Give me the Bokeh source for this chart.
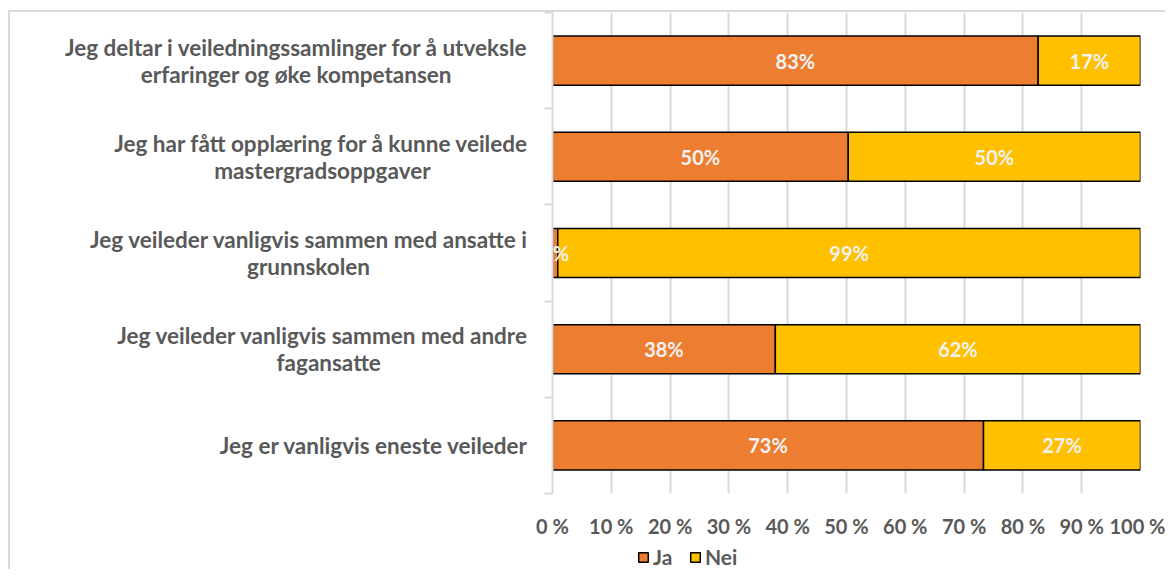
from bokeh.plotting import figure
from bokeh.layouts import column, row
from bokeh.models import (ColumnDataSource, Range1d, FixedTicker, LinearAxis,
                          Legend, LegendItem)
from bokeh.embed import file_html
from bokeh.resources import INLINE
from bokeh.core.properties import value

# ---- data (top to bottom) ----
label_line1 = [
    "Jeg deltar i veiledningssamlinger for å utveksle",
    "Jeg har fått opplæring for å kunne veilede",
    "Jeg veileder vanligvis sammen med ansatte i",
    "Jeg veileder vanligvis sammen med andre",
    "Jeg er vanligvis eneste veileder",
]
label_line2 = [
    "erfaringer og øke kompetansen",
    "mastergradsoppgaver",
    "grunnskolen",
    "fagansatte",
    "",
]
ja = [82.6, 50.3, 0.9, 37.9, 73.3]
nei = [17.4, 49.7, 99.1, 62.1, 26.7]
ja_labels = ["83%", "50%", "1%", "38%", "73%"]
nei_labels = ["17%", "50%", "99%", "62%", "27%"]
tick_values = [0, 10, 20, 30, 40, 50, 60, 70, 80, 90, 100]
tick_labels = ["0 %", "10 %", "20 %", "30 %", "40 %", "50 %", "60 %",
               "70 %", "80 %", "90 %", "100 %"]
series_names = ["Ja", "Nei"]

# layout-only: trailing no-break spaces to centre the 2nd line under the 1st
line2_pad = [14, 18, 29, 27, 0]

ORANGE = "#ED7D31"
YELLOW = "#FFC000"
GRID = "#d9d9d9"
TXT = "#595959"
FONT = "Lato"
W = 1155          # inside the chart frame
LW = 518          # width of the category-label strip
H = 528
B = 46            # space under the plot frame for tick labels

n = len(ja)
ys = [i + 0.5 for i in range(n)]
src = ColumnDataSource(dict(
    y=ys,
    ja=ja,
    total=[a + b for a, b in zip(ja, nei)],
    ja_mid=[a / 2 for a in ja],
    nei_mid=[a + b / 2 for a, b in zip(ja, nei)],
    ja_lab=ja_labels,
    nei_lab=nei_labels,
))
y_range = Range1d(n, 0)

# ---------- main bar plot ----------
p = figure(width=W - LW, height=H, output_backend="svg", toolbar_location=None,
           x_range=Range1d(0, 100), y_range=y_range,
           x_axis_location=None, y_axis_location=None,
           min_border_left=24, min_border_right=25,
           min_border_top=0, min_border_bottom=B)
p.outline_line_color = None
p.background_fill_color = "white"
p.border_fill_color = "white"

p.xgrid.ticker = FixedTicker(ticks=tick_values)
p.xgrid.grid_line_color = GRID
p.xgrid.grid_line_width = 2
p.ygrid.grid_line_color = None

xa = LinearAxis(ticker=FixedTicker(ticks=tick_values))
xa.major_label_overrides = {v: l for v, l in zip(tick_values, tick_labels)}
xa.axis_line_color = None
xa.major_tick_line_color = None
xa.major_tick_out = 0
xa.minor_tick_out = 0
xa.minor_tick_line_color = None
xa.major_label_standoff = 20
xa.major_label_text_font = FONT
xa.major_label_text_font_style = "bold"
xa.major_label_text_font_size = "20px"
xa.major_label_text_color = TXT
p.add_layout(xa, "below")

# left axis: only the line and small ticks at the band boundaries
ya = LinearAxis(ticker=FixedTicker(ticks=[], minor_ticks=list(range(n + 1))))
ya.axis_line_color = GRID
ya.axis_line_width = 2
ya.major_tick_line_color = None
ya.minor_tick_line_color = GRID
ya.minor_tick_line_width = 2
ya.minor_tick_out = 8
ya.minor_tick_in = 0
p.add_layout(ya, "left")

bar_style = dict(height=0.51, line_color="black", line_width=1.5)
p.hbar(y="y", left=0, right="ja", source=src, fill_color=ORANGE, **bar_style)
p.hbar(y="y", left="ja", right="total", source=src, fill_color=YELLOW, **bar_style)

for xcol, tcol in (("ja_mid", "ja_lab"), ("nei_mid", "nei_lab")):
    p.text(x=xcol, y="y", text=tcol, source=src, text_align="center",
           text_baseline="middle", text_color="#f2f2f2",
           text_font=value(FONT), text_font_style="bold",
           text_font_size="20px")

# ---------- category labels strip (shares the y range) ----------
lab_pos, lab_txt = [], []
for y, l1, l2, pad in zip(ys, label_line1, label_line2, line2_pad):
    if l2:
        lab_pos += [y - 0.14, y + 0.14]
        lab_txt += [l1, l2 + "\u00a0" * pad]
    else:
        lab_pos.append(y)
        lab_txt.append(l1)

cat = figure(width=LW, height=H, output_backend="svg", toolbar_location=None,
             x_range=Range1d(0, LW), y_range=y_range,
             x_axis_location=None, y_axis_location=None,
             min_border_left=0, min_border_right=0,
             min_border_top=0, min_border_bottom=B)
cat.outline_line_color = None
cat.grid.grid_line_color = None
cat.text(x=[LW] * len(lab_pos), y=lab_pos, text=lab_txt,
         text_align="right", text_baseline="middle", text_color=TXT,
         text_font=value(FONT), text_font_style="bold", text_font_size="22.5px")

# ---------- legend strip ----------
lg = figure(width=W, height=29, output_backend="svg", toolbar_location=None,
            x_range=Range1d(0, 100), y_range=Range1d(100, 101),
            x_axis_location=None, y_axis_location=None,
            min_border_left=627, min_border_right=0,
            min_border_top=0, min_border_bottom=0)
lg.outline_line_color = None
lg.grid.grid_line_color = None
# hidden copies of the bars: they only feed the legend swatches
lr_ja = lg.hbar(y="y", left=0, right="ja", source=src, fill_color=ORANGE,
                line_color="black", line_width=1.5, height=0.5, visible=False)
lr_nei = lg.hbar(y="y", left="ja", right="total", source=src, fill_color=YELLOW,
                 line_color="black", line_width=1.5, height=0.5, visible=False)
legend = Legend(items=[LegendItem(label=series_names[0], renderers=[lr_ja]),
                       LegendItem(label=series_names[1], renderers=[lr_nei])],
                location="bottom_left", orientation="horizontal",
                padding=0, margin=0, spacing=16, label_standoff=4,
                glyph_width=12, glyph_height=12,
                border_line_color=None, background_fill_alpha=0,
                label_text_font=FONT, label_text_font_style="bold",
                label_text_font_size="21px", label_text_color=TXT)
lg.add_layout(legend, "center")

chart_box = column(row(cat, p), lg,
                   styles={"border-left": "2px solid #d9d9d9",
                           "border-top": "2px solid #d9d9d9"})
page = column(chart_box, styles={"padding-left": "8px", "padding-top": "10px"})

open("out.html", "w").write(file_html(page, INLINE))
